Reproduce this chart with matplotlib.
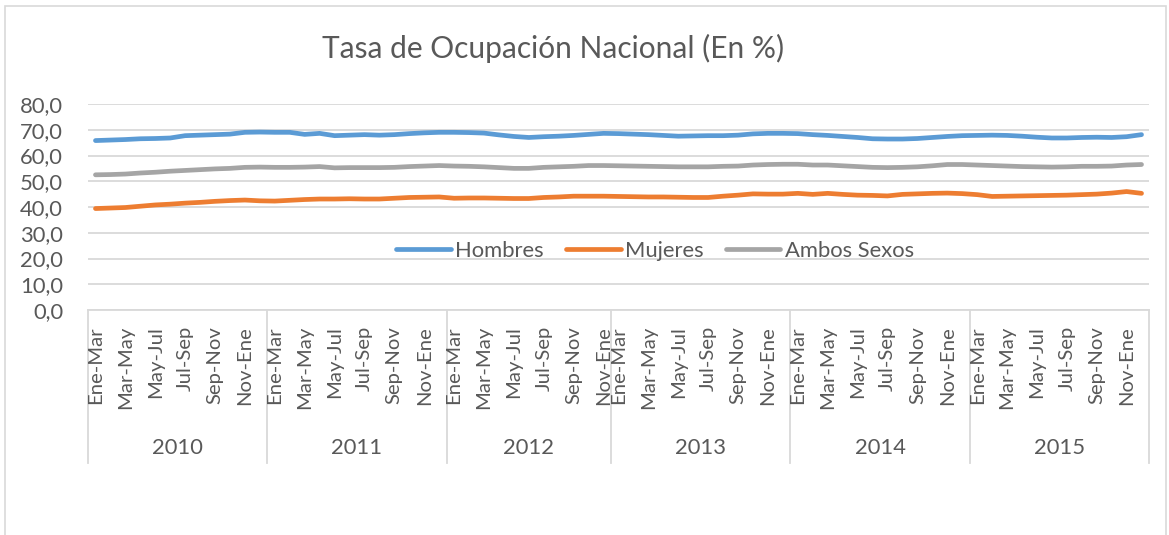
"""
Tasa de Ocupación Nacional (En %)
──────────────────────
Trimestres móviles 2010-2015, hombres / mujeres / ambos sexos.
"""
import matplotlib
matplotlib.use('Agg')
import matplotlib.pyplot as plt
import matplotlib.transforms as mtransforms
from matplotlib.patches import Rectangle

# ==========================================
# 資料
# ==========================================
YEARS = ['2010', '2011', '2012', '2013', '2014', '2015']

TRIM_FULL = ['Ene-Mar', 'Feb-Abr', 'Mar-May', 'Abr-Jun', 'May-Jul', 'Jun-Ago',
             'Jul-Sep', 'Ago-Oct', 'Sep-Nov', 'Oct-Dic', 'Nov-Ene', 'Dic-Feb']
# 2012 sin Dic-Feb
N_PER_YEAR = [12, 12, 11, 12, 12, 12]

hombres = [
    65.8, 66.0, 66.2, 66.5, 66.6, 66.8, 67.7, 67.9, 68.1, 68.3, 69.0, 69.1,
    69.0, 69.0, 68.2, 68.6, 67.7, 67.9, 68.1, 67.9, 68.1, 68.5, 68.8, 69.0,
    69.0, 68.9, 68.7, 68.0, 67.4, 67.0, 67.3, 67.5, 67.8, 68.2, 68.6,
    68.5, 68.3, 68.1, 67.8, 67.5, 67.6, 67.7, 67.7, 67.9, 68.4, 68.6, 68.6,
    68.5, 68.1, 67.8, 67.4, 67.0, 66.5, 66.4, 66.4, 66.6, 67.0, 67.4, 67.7,
    67.8, 67.9, 67.8, 67.5, 67.1, 66.8, 66.8, 67.0, 67.1, 67.0, 67.3, 68.1,
]
mujeres = [
    39.4, 39.6, 39.8, 40.3, 40.8, 41.1, 41.5, 41.8, 42.2, 42.5, 42.7, 42.4,
    42.3, 42.6, 42.9, 43.1, 43.1, 43.2, 43.1, 43.1, 43.4, 43.7, 43.8, 43.9,
    43.4, 43.5, 43.5, 43.4, 43.3, 43.3, 43.7, 43.9, 44.2, 44.2, 44.2,
    44.1, 44.0, 43.9, 43.9, 43.8, 43.7, 43.7, 44.2, 44.6, 45.1, 45.0, 45.0,
    45.3, 44.9, 45.3, 44.9, 44.6, 44.5, 44.3, 44.9, 45.1, 45.3, 45.4, 45.2,
    44.8, 44.1, 44.2, 44.3, 44.4, 44.5, 44.6, 44.8, 45.0, 45.4, 46.0, 45.3,
]
ambos = [
    52.5, 52.6, 52.8, 53.2, 53.5, 53.9, 54.2, 54.5, 54.8, 55.0, 55.4, 55.5,
    55.4, 55.4, 55.5, 55.7, 55.2, 55.3, 55.3, 55.3, 55.4, 55.7, 55.9, 56.1,
    55.9, 55.8, 55.6, 55.3, 55.0, 55.0, 55.4, 55.6, 55.8, 56.1, 56.1,
    56.0, 55.9, 55.8, 55.7, 55.6, 55.6, 55.6, 55.8, 55.9, 56.3, 56.5, 56.6,
    56.6, 56.3, 56.3, 56.0, 55.7, 55.4, 55.3, 55.4, 55.6, 56.0, 56.5, 56.5,
    56.3, 56.1, 55.9, 55.7, 55.6, 55.5, 55.6, 55.8, 55.8, 55.9, 56.3, 56.5,
]

# ==========================================
# 參數
# ==========================================
W, H = 1169, 535
TXT   = '#595959'
GRID  = '#D9D9D9'
COLORS = {'Hombres': '#5B9BD5', 'Mujeres': '#ED7D31', 'Ambos Sexos': '#A5A5A5'}

FS_TICK  = 15.8
FS_CAT   = 14.6
FS_TITLE = 21.5

plt.rcParams['font.family'] = ['Lato', 'DejaVu Sans']


def px_x(x): return x / W
def px_y(y): return 1 - y / H


def main():
    fig = plt.figure(figsize=(W / 100, H / 100), dpi=100)

    # 外框
    fig.patches.append(Rectangle((px_x(4.5), px_y(540)), px_x(1161), px_y(5.5) - px_y(540),
                                 transform=fig.transFigure, fill=False,
                                 edgecolor=GRID, lw=1.2))

    ax = fig.add_axes([px_x(88), px_y(310), px_x(1149) - px_x(88), px_y(104) - px_y(310)])

    x = list(range(len(hombres)))
    for name, vals in [('Hombres', hombres), ('Mujeres', mujeres), ('Ambos Sexos', ambos)]:
        ax.plot(x, vals, color=COLORS[name], lw=3.4, label=name,
                solid_capstyle='round', solid_joinstyle='round', zorder=3)

    ax.set_xlim(-0.5, len(x) - 0.5)
    ax.set_ylim(0, 80)
    ax.set_yticks(range(0, 81, 10))
    ax.set_yticklabels([f'{v:.1f}'.replace('.', ',') for v in range(0, 81, 10)])
    ax.tick_params(axis='y', length=0, pad=18, labelsize=FS_TICK, labelcolor=TXT)
    ax.grid(axis='y', color=GRID, lw=1.3)
    ax.set_axisbelow(True)
    for s in ['top', 'right', 'left']:
        ax.spines[s].set_visible(False)
    ax.spines['bottom'].set_color(GRID)
    ax.spines['bottom'].set_linewidth(1.3)
    ax.set_xticks([])

    # ── 類別軸（兩層） ──
    trans = mtransforms.blended_transform_factory(ax.transData, ax.transAxes)
    sep_bottom = -(463 - 310) / 206
    lab_top    = -(326 - 310) / 206
    year_y     = -(448 - 310) / 206

    start = 0
    bounds = [-0.5]
    for year, n in zip(YEARS, N_PER_YEAR):
        for k in range(0, n, 2):
            ax.text(start + k, lab_top, TRIM_FULL[k], rotation=90, transform=trans,
                    ha='center', va='top', fontsize=FS_CAT, color=TXT)
        ax.text(start + (n - 1) / 2, year_y, year, transform=trans,
                ha='center', va='center', fontsize=FS_TICK, color=TXT)
        start += n
        bounds.append(start - 0.5)

    for b in bounds:
        ax.plot([b, b], [0, sep_bottom], transform=trans, color=GRID, lw=1.3,
                clip_on=False)

    # ── 圖例 ──
    leg = ax.legend(loc='center', bbox_to_anchor=((655 - 88) / 1061, (310 - 251) / 206),
                    ncol=3, frameon=False, fontsize=FS_TICK, handlelength=2.5,
                    handletextpad=0.2, columnspacing=1.0)
    for t in leg.get_texts():
        t.set_color(TXT)

    fig.text(px_x(553), px_y(48), 'Tasa de Ocupación Nacional (En %)',
             ha='center', va='center', fontsize=FS_TITLE, color=TXT)

    fig.savefig('out.png', dpi=100)
    plt.close(fig)


if __name__ == '__main__':
    main()
